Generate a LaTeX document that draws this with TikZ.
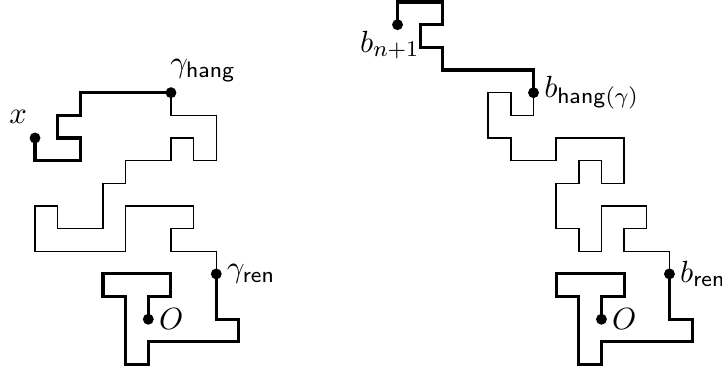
\documentclass[tikz,border=0pt]{standalone}
\usetikzlibrary{calc}
\begin{document}
\begin{tikzpicture}[x=8.1pt,y=8.1pt,
  thinpath/.style={line width=0.5pt},
  thickpath/.style={line width=1.1pt},
  dot/.style={circle, fill=black, inner sep=0pt, minimum size=3.9pt},
  lab/.style={inner sep=0pt, font=\fontsize{10.95}{13}\selectfont}]
\useasboundingbox (-1.545,-12.28) rectangle (30.32,4.09);
% left figure
\coordinate (xd) at (0,-2);
\coordinate (gh) at (6,0);
\coordinate (gr) at (8,-8);
\coordinate (OL) at (5,-10);
\draw[thickpath] (xd) -- (0,-3) -- (2,-3) -- (2,-2) -- (1,-2) -- (1,-1) -- (2,-1) -- (2,0) -- (gh);
\draw[thinpath] (gh) -- (6,-1) -- (8,-1) -- (8,-3) -- (7,-3) -- (7,-2) -- (6,-2) -- (6,-3) -- (4,-3) -- (4,-4) -- (3,-4) -- (3,-6) -- (1,-6) -- (1,-5) -- (0,-5) -- (0,-7) -- (4,-7) -- (4,-5) -- (7,-5) -- (7,-6) -- (6,-6) -- (6,-7) -- (8,-7) -- (gr);
\draw[thickpath] (gr) -- (8,-10) -- (9,-10) -- (9,-11) -- (5,-11) -- (5,-12) -- (4,-12) -- (4,-9) -- (3,-9) -- (3,-8) -- (6,-8) -- (6,-9) -- (5,-9) -- (OL);
% right figure
\coordinate (bn) at (16,3);
\coordinate (bh) at (22,0);
\coordinate (br) at (28,-8);
\coordinate (OR) at (25,-10);
\draw[thickpath] (bn) -- (16,4) -- (18,4) -- (18,3) -- (17,3) -- (17,2) -- (18,2) -- (18,1) -- (22,1) -- (bh);
\draw[thinpath] (bh) -- (22,-1) -- (21,-1) -- (21,0) -- (20,0) -- (20,-2) -- (21,-2) -- (21,-3) -- (23,-3) -- (23,-2) -- (26,-2) -- (26,-4) -- (25,-4) -- (25,-3) -- (24,-3) -- (24,-4) -- (23,-4) -- (23,-6) -- (24,-6) -- (24,-7) -- (25,-7) -- (25,-5) -- (27,-5) -- (27,-6) -- (26,-6) -- (26,-7) -- (28,-7) -- (br);
\draw[thickpath] (br) -- (28,-10) -- (29,-10) -- (29,-11) -- (25,-11) -- (25,-12) -- (24,-12) -- (24,-9) -- (23,-9) -- (23,-8) -- (26,-8) -- (26,-9) -- (25,-9) -- (OR);
% dots
\foreach \p in {xd,gh,gr,OL,bn,bh,br,OR} \node[dot] (d\p) at (\p) {};
% labels
\node[lab, shift={(-0.74,0.94)}] (lx) at (xd) {$x$};
\node[lab, anchor=south west, shift={(-0.05,0.45)}] (lgh) at (gh) {$\gamma_{\mathsf{hang}}$};
\node[lab, anchor=west, shift={(0.45,0)}] (lgr) at (gr) {$\gamma_{\mathsf{ren}}$};
\node[lab, anchor=west, shift={(0.45,0)}] (lOL) at (OL) {$O$};
\node[lab, anchor=north, shift={(-0.34,-0.25)}] (lbn) at (bn) {$b_{n+1}$};
\node[lab, anchor=west, shift={(0.45,0)}] (lbh) at (bh) {$b_{\mathsf{hang}(\gamma)}$};
\node[lab, anchor=west, shift={(0.45,0)}] (lbr) at (br) {$b_{\mathsf{ren}}$};
\node[lab, anchor=west, shift={(0.45,0)}] (lOR) at (OR) {$O$};
\end{tikzpicture}
\end{document}
